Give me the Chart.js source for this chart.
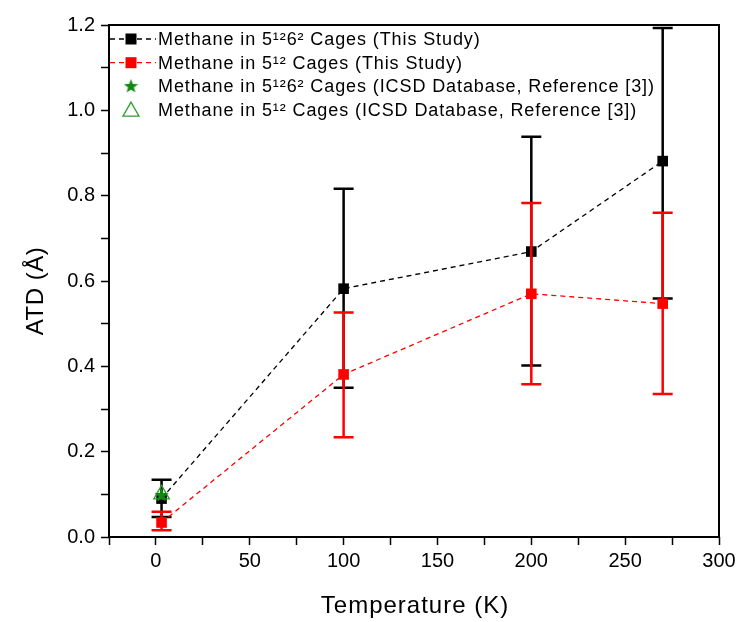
<!DOCTYPE html>
<html lang="en">
<head>
<meta charset="UTF-8">
<title>ATD vs Temperature</title>
<script src="https://cdn.jsdelivr.net/npm/chart.js"></script>
<style>
    body { margin: 0; background: #fff; }
    #wrap { width: 740px; height: 622px; }
</style>
</head>
<body>
<div id="wrap"><canvas id="grafico_atd" width="740" height="622"></canvas></div>
<script>
    // values
    var temps = [3, 100, 200, 270];
    var atd_5126 = [0.090, 0.582, 0.669, 0.881];
    var atd_5126_low = [0.047, 0.350, 0.402, 0.559];
    var atd_5126_high = [0.134, 0.816, 0.938, 1.193];

    var atd_512 = [0.034, 0.381, 0.570, 0.547];
    var atd_512_low = [0.016, 0.234, 0.358, 0.335];
    var atd_512_high = [0.059, 0.526, 0.783, 0.760];

    var icsd_temps = [3];
    var icsd_5126 = [0.100];
    var icsd_512 = [0.100];

    var legend_labels = [
        "Methane in 5¹²6² Cages (This Study)",
        "Methane in 5¹² Cages (This Study)",
        "Methane in 5¹²6² Cages (ICSD Database, Reference [3])",
        "Methane in 5¹² Cages (ICSD Database, Reference [3])"
    ];
    var x_title = "Temperature (K)";
    var y_title = "ATD (Å)";
    var x_tick_labels = [0, 50, 100, 150, 200, 250, 300];
    var y_tick_labels = ["0.0", "0.2", "0.4", "0.6", "0.8", "1.0", "1.2"];

    var FONT = "'Liberation Sans', Arial, sans-serif";
    Chart.defaults.font.family = FONT;
    Chart.defaults.color = "#000";

    var STAR_GREEN = "#128a12";
    var TRI_GREEN = "#2f9e2f";

    function pares(xs, ys) {
        return xs.map(function (x, i) { return { x: x, y: ys[i] }; });
    }

    function estrela(size, cor) {
        var c = document.createElement("canvas");
        c.width = size; c.height = size;
        var g = c.getContext("2d");
        var r = size / 2, ri = r * 0.42;
        g.beginPath();
        for (var k = 0; k < 10; k++) {
            var ang = -Math.PI / 2 + k * Math.PI / 5;
            var rr = k % 2 ? ri : r;
            g.lineTo(r + rr * Math.cos(ang), r + 1 + rr * Math.sin(ang));
        }
        g.closePath();
        g.fillStyle = cor;
        g.fill();
        return c;
    }
    var star_img = estrela(15, STAR_GREEN);

    var errorBars = {
        id: "errorBars",
        beforeDatasetDraw: function (chart, args) {
            var ds = chart.data.datasets[args.index];
            if (!ds.errLow) return;
            var xs = chart.scales.x, ys = chart.scales.y, ctx = chart.ctx;
            ctx.save();
            ctx.strokeStyle = ds.borderColor;
            ctx.lineWidth = 2.5;
            ctx.setLineDash([]);
            for (var i = 0; i < ds.data.length; i++) {
                var px = xs.getPixelForValue(ds.data[i].x);
                var lo = ys.getPixelForValue(ds.errLow[i]);
                var hi = ys.getPixelForValue(ds.errHigh[i]);
                ctx.beginPath();
                ctx.moveTo(px, lo); ctx.lineTo(px, hi);
                ctx.moveTo(px - 10, lo); ctx.lineTo(px + 10, lo);
                ctx.moveTo(px - 10, hi); ctx.lineTo(px + 10, hi);
                ctx.stroke();
            }
            ctx.restore();
        }
    };

    var moldura = {
        id: "moldura",
        afterDraw: function (chart) {
            var a = chart.chartArea, ctx = chart.ctx;
            ctx.save();
            ctx.strokeStyle = "#000";
            ctx.lineWidth = 2;
            ctx.strokeRect(a.left, a.top, a.right - a.left, a.bottom - a.top);

            // axis titles
            ctx.fillStyle = "#000";
            ctx.font = "24px " + FONT;
            ctx.textAlign = "center";
            ctx.textBaseline = "alphabetic";
            ctx.letterSpacing = "1px";
            ctx.fillText(x_title, (a.left + a.right) / 2 + 1, 613);
            ctx.save();
            ctx.translate(43, 291);
            ctx.rotate(-Math.PI / 2);
            ctx.letterSpacing = "0.5px";
            ctx.fillText(y_title, 0, 0);
            ctx.restore();

            // legend inside the plot, top-left
            ctx.textAlign = "left";
            ctx.font = "18px " + FONT;
            ctx.letterSpacing = "0.9px";
            ctx.textBaseline = "middle";
            var mx = a.left + 22;
            for (var i = 0; i < legend_labels.length; i++) {
                var y = a.top + 14 + i * 23.7;
                var ds = chart.data.datasets[i];
                if (i < 2) {
                    ctx.strokeStyle = ds.borderColor;
                    ctx.lineWidth = 1.3;
                    ctx.setLineDash([5, 4]);
                    ctx.beginPath();
                    ctx.moveTo(a.left + 1, y); ctx.lineTo(a.left + 47, y);
                    ctx.stroke();
                    ctx.setLineDash([]);
                    ctx.fillStyle = ds.borderColor;
                    ctx.fillRect(mx - 5.5, y - 5.5, 11, 11);
                } else if (i === 2) {
                    ctx.drawImage(star_img, mx - 7.5, y - 8.5);
                } else {
                    ctx.strokeStyle = TRI_GREEN;
                    ctx.lineWidth = 1.3;
                    ctx.beginPath();
                    ctx.moveTo(mx, y - 8); ctx.lineTo(mx + 8, y + 6); ctx.lineTo(mx - 8, y + 6);
                    ctx.closePath();
                    ctx.stroke();
                }
                ctx.fillStyle = "#000";
                ctx.fillText(legend_labels[i], a.left + 49, y + 1);
            }
            ctx.restore();
        }
    };

    var ctx = document.getElementById("grafico_atd").getContext("2d");

    new Chart(ctx, {
        type: "line",
        data: {
            datasets: [{
                label: legend_labels[0],
                data: pares(temps, atd_5126),
                errLow: atd_5126_low,
                errHigh: atd_5126_high,
                borderColor: "#000",
                backgroundColor: "#000",
                borderWidth: 1.3,
                borderDash: [5, 4],
                pointStyle: "rect",
                pointRadius: 7.5,
                pointBorderWidth: 0,
                order: 4
            }, {
                label: legend_labels[1],
                data: pares(temps, atd_512),
                errLow: atd_512_low,
                errHigh: atd_512_high,
                borderColor: "#ff0000",
                backgroundColor: "#ff0000",
                borderWidth: 1.3,
                borderDash: [5, 4],
                pointStyle: "rect",
                pointRadius: 7.5,
                pointBorderWidth: 0,
                order: 3
            }, {
                label: legend_labels[2],
                data: pares(icsd_temps, icsd_5126),
                showLine: false,
                pointStyle: star_img,
                order: 1
            }, {
                label: legend_labels[3],
                data: pares(icsd_temps, icsd_512),
                showLine: false,
                pointStyle: "triangle",
                pointRadius: 9,
                borderColor: TRI_GREEN,
                backgroundColor: "rgba(0,0,0,0)",
                pointBorderWidth: 1.3,
                order: 2
            }]
        },
        options: {
            responsive: false,
            animation: false,
            layout: { padding: { top: 25, right: 21, left: 0, bottom: 0 } },
            plugins: {
                legend: { display: false },
                tooltip: { enabled: false }
            },
            scales: {
                x: {
                    type: "linear",
                    min: -25,
                    max: 300,
                    afterFit: function (s) { s.height = 85; },
                    ticks: {
                        stepSize: 25,
                        autoSkip: false,
                        maxRotation: 0,
                        padding: 4,
                        font: { size: 20 },
                        callback: function (v) { return x_tick_labels.indexOf(v) >= 0 ? String(v) : ""; }
                    },
                    grid: { drawOnChartArea: false, tickLength: 8, tickColor: "#000", tickWidth: 1.5 },
                    border: { display: false }
                },
                y: {
                    min: 0,
                    max: 1.2,
                    afterFit: function (s) { s.width = 109; },
                    ticks: {
                        stepSize: 0.1,
                        autoSkip: false,
                        padding: 6,
                        font: { size: 20 },
                        callback: function (v) {
                            var t = v.toFixed(1);
                            return y_tick_labels.indexOf(t) >= 0 ? t : "";
                        }
                    },
                    grid: { drawOnChartArea: false, tickLength: 8, tickColor: "#000", tickWidth: 1.5 },
                    border: { display: false }
                }
            }
        },
        plugins: [errorBars, moldura]
    });
</script>
</body>
</html>
